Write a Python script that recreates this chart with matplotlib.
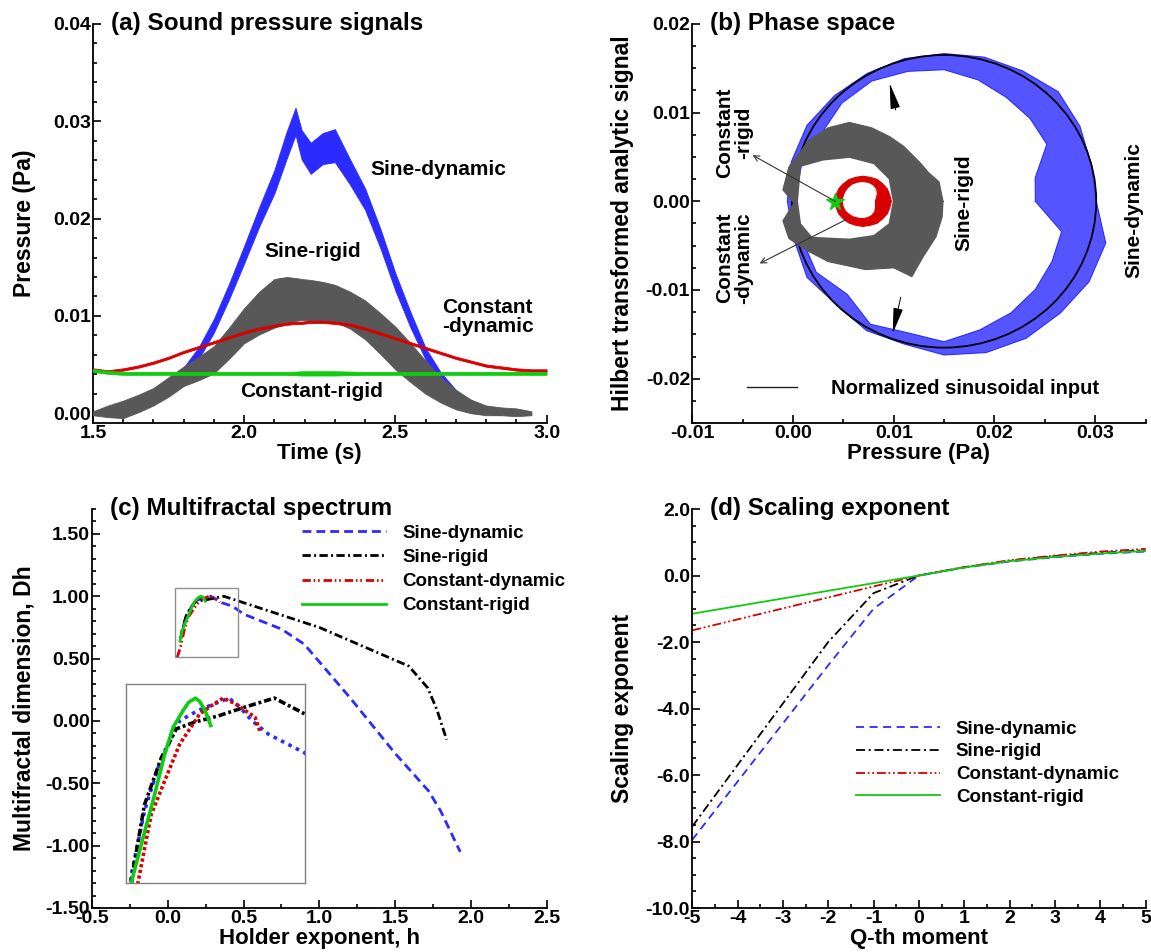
import numpy as np
import matplotlib
matplotlib.use('Agg')
import matplotlib.pyplot as plt
from matplotlib.patches import Ellipse, Rectangle
from matplotlib.lines import Line2D
from matplotlib.ticker import MultipleLocator, FormatStrFormatter

plt.rcParams['font.family'] = ['Liberation Sans', 'DejaVu Sans']
plt.rcParams['font.weight'] = 'bold'
plt.rcParams['axes.labelweight'] = 'bold'

BLUE = '#2b2bff'
GRAY = '#585858'
RED = '#d80000'
GREEN = '#10cc10'

# ---- (a) sound pressure signals, envelopes (centre, half width)
t = [1.50, 1.55, 1.60, 1.65, 1.70, 1.75, 1.80, 1.85, 1.90, 1.95, 2.00, 2.05, 2.10,
     2.14, 2.17, 2.19, 2.22, 2.26, 2.30, 2.35, 2.40, 2.45, 2.50, 2.55, 2.60, 2.65,
     2.70, 2.75, 2.80, 2.85, 2.90, 2.95, 3.00]
sd_mid = [0.0000, 0.0002, 0.0006, 0.0011, 0.0018, 0.0028, 0.0042, 0.0062, 0.0090, 0.0125,
          0.0163, 0.0202, 0.0238, 0.0275, 0.0300, 0.0276, 0.0262, 0.0272, 0.0275, 0.0248,
          0.0220, 0.0180, 0.0135, 0.0096, 0.0061, 0.0037, 0.0020, 0.0009, 0.0002, 0.0000,
          np.nan, np.nan, np.nan]
sd_hw = [0.0002, 0.0003, 0.0004, 0.0004, 0.0005, 0.0005, 0.0005, 0.0006, 0.0007, 0.0008,
         0.0009, 0.0010, 0.0012, 0.0014, 0.0014, 0.0015, 0.0016, 0.0016, 0.0017, 0.0013,
         0.0011, 0.0010, 0.0009, 0.0008, 0.0006, 0.0005, 0.0004, 0.0003, 0.0003, 0.0002,
         np.nan, np.nan, np.nan]
sr_mid = [0.0000, 0.0002, 0.0004, 0.0010, 0.0017, 0.0027, 0.0038, 0.0046, 0.0055, 0.0072,
          0.0090, 0.0103, 0.0113, 0.0116, 0.0117, 0.0117, 0.0116, 0.0115, 0.0113, 0.0106,
          0.0096, 0.0082, 0.0067, 0.0052, 0.0037, 0.0024, 0.0014, 0.0007, 0.0003, 0.0002,
          0.0001, 0.0000, np.nan]
sr_hw = [0.0002, 0.0006, 0.0009, 0.0009, 0.0009, 0.0010, 0.0010, 0.0012, 0.0014, 0.0016,
         0.0018, 0.0022, 0.0025, 0.0024, 0.0022, 0.0021, 0.0021, 0.0020, 0.0019, 0.0019,
         0.0020, 0.0021, 0.0022, 0.0020, 0.0017, 0.0013, 0.0010, 0.0007, 0.0005, 0.0004,
         0.0004, 0.0002, np.nan]
cd_mid = [0.0045, 0.0043, 0.0045, 0.0048, 0.0052, 0.0057, 0.0063, 0.0068, 0.0073, 0.0078,
          0.0083, 0.0087, 0.0090, 0.0092, 0.0093, 0.0093, 0.0094, 0.0094, 0.0093, 0.0091,
          0.0087, 0.0082, 0.0077, 0.0072, 0.0067, 0.0062, 0.0057, 0.0053, 0.0049, 0.0047,
          0.0045, 0.0044, 0.0044]
cd_hw = 0.00012
cr_mid = [0.0044, 0.0042, 0.0041, 0.0041, 0.0041, 0.0041, 0.0041, 0.0041, 0.0041, 0.0041,
          0.0041, 0.0041, 0.0041, 0.0041, 0.0041, 0.0041, 0.0041, 0.0041, 0.0041, 0.0041,
          0.0041, 0.0041, 0.0041, 0.0041, 0.0041, 0.0041, 0.0041, 0.0041, 0.0041, 0.0041,
          0.0041, 0.0041, 0.0041]
cr_hw = [0.00015, 0.00015, 0.00015, 0.00015, 0.00015, 0.00015, 0.00015, 0.00015, 0.00015,
         0.00015, 0.00015, 0.00015, 0.00015, 0.00015, 0.00018, 0.00022, 0.00022, 0.00022,
         0.00022, 0.00018, 0.00015, 0.00015, 0.00015, 0.00015, 0.00015, 0.00015, 0.00015,
         0.00015, 0.00015, 0.00015, 0.00015, 0.00015, 0.00015]

# ---- (b) phase space
ref_c = (0.015, 0.0)
ref_rx, ref_ry = 0.0151, 0.0165
sd_ang = np.arange(0, 360, 15)
sd_rin = [0.60, 0.62, 0.78, 0.80, 0.82, 0.86, 0.90, 0.92, 0.95, 0.95, 0.93, 0.97,
          0.98, 0.97, 0.97, 0.90, 0.97, 0.93, 0.96, 0.91, 0.88, 0.85, 0.82, 0.80]
sd_rout = [1.00, 1.00, 1.03, 1.06, 1.03, 1.02, 1.01, 1.01, 1.01, 1.02, 1.04, 1.04,
           1.03, 1.02, 1.04, 1.00, 1.02, 1.01, 1.05, 1.07, 1.08, 1.08, 1.10, 1.10]
cd_c = (0.00695, 0.0)
cd_rx, cd_ry = 0.00275, 0.0028
cd_ang = np.arange(0, 360, 15)
cd_rin = [0.45, 0.50, 0.60, 0.70, 0.76, 0.79, 0.80, 0.80, 0.80, 0.78, 0.76, 0.75,
          0.75, 0.75, 0.75, 0.73, 0.72, 0.70, 0.70, 0.68, 0.65, 0.60, 0.52, 0.47]
cd_rout = [1.02, 1.00, 1.01, 1.00, 1.02, 1.00, 1.01, 1.00, 1.01, 1.00, 1.01, 1.00,
           1.00, 1.00, 1.01, 1.00, 1.01, 1.00, 1.01, 1.00, 1.02, 1.00, 1.01, 1.00]
sr_out_x = [0.0149, 0.0145, 0.0135, 0.0125, 0.0110, 0.0096, 0.0078, 0.0056, 0.0035, 0.0016,
            -0.0004, -0.0010, 0.0001, -0.0010, -0.0004, 0.0013, 0.0035, 0.0072, 0.0100,
            0.0118, 0.0129, 0.0142, 0.0148]
sr_out_y = [0.0000, 0.0022, 0.0032, 0.0045, 0.0062, 0.0073, 0.0083, 0.0089, 0.0083, 0.0069,
            0.0039, 0.0013, -0.0002, -0.0022, -0.0042, -0.0055, -0.0068, -0.0077, -0.0075,
            -0.0085, -0.0063, -0.0040, -0.0018]
sr_in_x = [0.0099, 0.0095, 0.0080, 0.0056, 0.0030, 0.0008, 0.0005, 0.0008, 0.0019, 0.0056,
           0.0080, 0.0095]
sr_in_y = [0.0000, 0.0025, 0.0042, 0.0049, 0.0046, 0.0039, 0.0000, -0.0025, -0.0040, -0.0042,
           -0.0038, -0.0025]
cr_x, cr_y = [0.0042], [-0.0001]

# ---- (c) multifractal spectrum
h_sd = [0.085, 0.0956, 0.121, 0.147, 0.1726, 0.1887, 0.224, 0.256, 0.283, 0.301, 0.327,
        0.359, 0.428, 0.50, 0.75, 0.90, 1.20, 1.50, 1.72, 1.80, 1.93]
D_sd = [0.66, 0.741, 0.835, 0.898, 0.942, 0.967, 0.982, 0.992, 1.00, 0.989, 0.967,
        0.947, 0.920, 0.857, 0.737, 0.616, 0.19, -0.26, -0.56, -0.72, -1.05]
h_sr = [0.085, 0.0988, 0.121, 0.1534, 0.182, 0.2175, 0.2625, 0.314, 0.37, 0.428, 1.00,
        1.59, 1.715, 1.776, 1.84]
D_sr = [0.66, 0.746, 0.844, 0.913, 0.955, 0.965, 0.974, 0.987, 1.00, 0.977, 0.75,
        0.44, 0.266, 0.09, -0.15]
h_cd = [0.062, 0.085, 0.1085, 0.134, 0.1598, 0.1887, 0.227, 0.2496, 0.272, 0.2946,
        0.314, 0.333, 0.343]
D_cd = [0.51, 0.60, 0.73, 0.83, 0.879, 0.933, 0.977, 0.989, 1.00, 0.992, 0.982, 0.972, 0.95]
h_cr = [0.08, 0.0956, 0.118, 0.1405, 0.1598, 0.1758, 0.195, 0.206, 0.2188, 0.227, 0.237, 0.248]
D_cr = [0.64, 0.73, 0.795, 0.859, 0.918, 0.957, 0.982, 0.994, 1.00, 0.995, 0.982, 0.960]

# ---- (d) scaling exponent
q = [-5, -4, -3, -2, -1, 0, 1, 2, 3, 4, 5]
tau_sd = [-7.95, -6.2, -4.45, -2.7, -1.0, 0.0, 0.24, 0.42, 0.55, 0.65, 0.72]
tau_sr = [-7.55, -5.7, -3.85, -2.0, -0.53, 0.0, 0.25, 0.44, 0.58, 0.68, 0.76]
tau_cd = [-1.65, -1.32, -0.99, -0.66, -0.33, 0.0, 0.25, 0.46, 0.60, 0.72, 0.80]
tau_cr = [-1.15, -0.92, -0.69, -0.46, -0.23, 0.0, 0.24, 0.43, 0.56, 0.66, 0.74]

names = ['Sine-dynamic', 'Sine-rigid', 'Constant-dynamic', 'Constant-rigid']

fig = plt.figure(figsize=(11.51, 9.52), dpi=100)
W, H = 1151.0, 952.0
axa = fig.add_axes([92.9 / W, 1 - 423 / H, 453.7 / W, 399 / H])
axb = fig.add_axes([692.2 / W, 1 - 423 / H, 453.4 / W, 399 / H])
axc = fig.add_axes([92.1 / W, 1 - 908 / H, 454.5 / W, 399 / H])
axd = fig.add_axes([692.2 / W, 1 - 908 / H, 453.4 / W, 399 / H])

TXT = 15


def style(ax, title, xlabel, ylabel, ylx):
    for s in ['top', 'right']:
        ax.spines[s].set_visible(False)
    for s in ['left', 'bottom']:
        ax.spines[s].set_linewidth(1.3)
    ax.tick_params(which='both', direction='in', top=False, right=False, width=1.2,
                   labelsize=14, pad=1.5)
    ax.tick_params(which='major', length=6)
    ax.tick_params(which='minor', length=3)
    ax.text(0.04, 1.0, title, transform=ax.transAxes, ha='left', va='center',
            fontsize=17.5, fontweight='bold')
    ax.set_xlabel(xlabel, fontsize=16)
    ax.set_ylabel(ylabel, fontsize=16.5)
    ax.xaxis.set_label_coords(0.5, -0.05)
    ax.yaxis.set_label_coords(ylx, 0.5)


def band(ax, x, mid, hw, color, z):
    mid = np.asarray(mid, float)
    lo = mid - np.asarray(hw, float)
    hi = mid + np.asarray(hw, float)
    ax.fill_between(x, lo, hi, color=color, lw=0.6, zorder=z)


def ring(ax, cx, cy, rx, ry, ang, rin, rout, color, z, alpha=1.0):
    a = np.radians(np.append(ang, ang[0]))
    ri = np.append(rin, rin[0])
    ro = np.append(rout, rout[0])
    xo, yo = cx + ro * rx * np.cos(a), cy + ro * ry * np.sin(a)
    xi, yi = cx + ri * rx * np.cos(a), cy + ri * ry * np.sin(a)
    ax.fill(np.r_[xo, xi[::-1]], np.r_[yo, yi[::-1]], color=color, lw=0, alpha=alpha, zorder=z)
    ax.plot(xo, yo, color=color, lw=0.8, zorder=z)
    ax.plot(xi, yi, color=color, lw=0.8, zorder=z)


# ---------------- (a)
band(axa, t, sd_mid, sd_hw, BLUE, 2)
band(axa, t, sr_mid, sr_hw, GRAY, 3)
band(axa, t, cd_mid, cd_hw, RED, 4)
band(axa, t, cr_mid, cr_hw, GREEN, 5)
axa.set_xlim(1.5, 3.0)
axa.set_ylim(-0.001, 0.04)
axa.xaxis.set_major_locator(MultipleLocator(0.5))
axa.xaxis.set_minor_locator(MultipleLocator(0.1))
axa.yaxis.set_major_locator(MultipleLocator(0.01))
axa.yaxis.set_minor_locator(MultipleLocator(0.002))
axa.xaxis.set_major_formatter(FormatStrFormatter('%.1f'))
axa.yaxis.set_major_formatter(FormatStrFormatter('%.2f'))
style(axa, '(a) Sound pressure signals', 'Time (s)', 'Pressure (Pa)', -0.125)
axa.text(2.418, 0.025, 'Sine-dynamic', fontsize=TXT, ha='left', va='center')
axa.text(2.228, 0.0166, 'Sine-rigid', fontsize=TXT, ha='center', va='center')
axa.text(2.653, 0.0099, 'Constant\n-dynamic', fontsize=TXT, ha='left', va='center',
         linespacing=1.0)
axa.text(2.223, 0.0022, 'Constant-rigid', fontsize=TXT, ha='center', va='center')

# ---------------- (b)
ring(axb, ref_c[0], ref_c[1], ref_rx, ref_ry, sd_ang, sd_rin, sd_rout, BLUE, 2, 0.8)
axb.add_patch(Ellipse(ref_c, 2 * ref_rx, 2 * ref_ry, fill=False, ec='black', lw=1.3, zorder=3))
axb.fill(np.r_[sr_out_x, sr_out_x[0], sr_in_x[0], sr_in_x[::-1]],
         np.r_[sr_out_y, sr_out_y[0], sr_in_y[0], sr_in_y[::-1]],
         color=GRAY, lw=0, zorder=4)
axb.plot(np.r_[sr_out_x, sr_out_x[0]], np.r_[sr_out_y, sr_out_y[0]], color=GRAY, lw=0.8, zorder=4)
ring(axb, cd_c[0], cd_c[1], cd_rx, cd_ry, cd_ang, cd_rin, cd_rout, RED, 5)
axb.plot(cr_x, cr_y, marker='*', ms=13, color=GREEN, ls='none', zorder=6)
thin = dict(arrowstyle='->', color='#333333', lw=0.8, shrinkA=0, shrinkB=0)
axb.annotate('', xy=(-0.0040, 0.0052), xytext=(0.0042, 0.0), zorder=7, arrowprops=thin)
axb.annotate('', xy=(-0.0033, -0.0070), xytext=(0.0052, -0.0021), zorder=7, arrowprops=thin)
bold = dict(arrowstyle='-|>,head_length=1.6,head_width=0.3', color='black', lw=0.7,
            mutation_scale=10, shrinkA=0, shrinkB=0)
axb.annotate('', xy=(0.0096, 0.0133), xytext=(0.0102, 0.0103), zorder=7, arrowprops=bold)
axb.annotate('', xy=(0.0099, -0.0149), xytext=(0.0107, -0.0108), zorder=7, arrowprops=bold)
axb.text(-0.0058, 0.0077, 'Constant\n-rigid', rotation=90, fontsize=TXT, ha='center',
         va='center', multialignment='center', linespacing=1.0)
axb.text(-0.0058, -0.0064, 'Constant\n-dynamic', rotation=90, fontsize=TXT, ha='center',
         va='center', multialignment='center', linespacing=1.0)
axb.text(0.0170, -0.0002, 'Sine-rigid', rotation=90, fontsize=TXT, ha='center', va='center')
axb.text(0.0338, -0.0010, 'Sine-dynamic', rotation=90, fontsize=TXT, ha='center', va='center')
axb.legend([Line2D([0], [0], color='#222222', lw=1.0)], ['Normalized sinusoidal input'],
           loc='center left', bbox_to_anchor=(0.12, 0.087), frameon=False, fontsize=14.5,
           handlelength=2.5, handletextpad=1.7, borderaxespad=0, borderpad=0)
axb.set_xlim(-0.01, 0.035)
axb.set_ylim(-0.025, 0.02)
axb.xaxis.set_major_locator(MultipleLocator(0.01))
axb.xaxis.set_minor_locator(MultipleLocator(0.005))
axb.yaxis.set_major_locator(MultipleLocator(0.01))
axb.yaxis.set_minor_locator(MultipleLocator(0.0025))
axb.xaxis.set_major_formatter(FormatStrFormatter('%.2f'))
axb.yaxis.set_major_formatter(FormatStrFormatter('%.2f'))
style(axb, '(b) Phase space', 'Pressure (Pa)', 'Hilbert transformed analytic signal', -0.128)

# ---------------- (c)
c_styles = [dict(color=BLUE, dashes=(3.2, 1.8)),
            dict(color='black', dashes=(3, 1.2, 0.7, 1.2)),
            dict(color=RED, dashes=(3, 1, 0.6, 1, 0.6, 1.4)),
            dict(color=GREEN)]
c_data = [(h_sd, D_sd), (h_sr, D_sr), (h_cd, D_cd), (h_cr, D_cr)]
lines_c = []
for (hh, dd), st, nm in zip(c_data, c_styles, names):
    ln, = axc.plot(hh, dd, lw=2, label=nm, **st)
    lines_c.append(ln)
axc.add_patch(Rectangle((0.05, 0.51), 0.41, 0.56, fill=False, ec='#909090', lw=1.0, zorder=6))
axins = axc.inset_axes([-0.275, -1.298, 1.178, 1.591], transform=axc.transData)
in_styles = [dict(color=BLUE, dashes=(1, 1.3)),
             dict(color='black', dashes=(2, 0.8, 0.8, 0.8)),
             dict(color=RED, dashes=(0.9, 0.7)),
             dict(color=GREEN)]
for (hh, dd), st in zip(c_data, in_styles):
    axins.plot(hh, dd, lw=2.6, **st)
axins.set_xlim(0.086, 0.428)
axins.set_ylim(0.73, 1.02)
axins.set_xticks([])
axins.set_yticks([])
for s in axins.spines.values():
    s.set_edgecolor('#808080')
    s.set_linewidth(1.0)
axc.legend(handles=lines_c, loc='upper left', bbox_to_anchor=(0.462, 0.961), frameon=False,
           fontsize=13.5, handlelength=4.5, handletextpad=0.83, labelspacing=0.38,
           borderaxespad=0, borderpad=0)
axc.set_xlim(-0.5, 2.5)
axc.set_ylim(-1.5, 1.7)
axc.xaxis.set_major_locator(MultipleLocator(0.5))
axc.xaxis.set_minor_locator(MultipleLocator(0.25))
axc.yaxis.set_major_locator(MultipleLocator(0.5))
axc.yaxis.set_minor_locator(MultipleLocator(0.1))
axc.xaxis.set_major_formatter(FormatStrFormatter('%.1f'))
axc.yaxis.set_major_formatter(FormatStrFormatter('%.2f'))
style(axc, '(c) Multifractal spectrum', 'Holder exponent, h', 'Multifractal dimension, Dh', -0.125)

# ---------------- (d)
d_styles = [dict(color=BLUE, dashes=(4.5, 3)),
            dict(color='black', dashes=(5, 2, 1.2, 2)),
            dict(color=RED, dashes=(5, 1.5, 1, 1.5, 1, 1.5)),
            dict(color=GREEN)]
lines_d = []
for tau, st, nm in zip([tau_sd, tau_sr, tau_cd, tau_cr], d_styles, names):
    ln, = axd.plot(q, tau, lw=1.3, label=nm, **st)
    lines_d.append(ln)
axd.legend(handles=lines_d, loc='upper left', bbox_to_anchor=(0.361, 0.47), frameon=False,
           fontsize=13.5, handlelength=4.5, handletextpad=0.83, labelspacing=0.3,
           borderaxespad=0, borderpad=0)
axd.set_xlim(-5, 5)
axd.set_ylim(-10, 2)
axd.xaxis.set_major_locator(MultipleLocator(1))
axd.xaxis.set_minor_locator(MultipleLocator(0.5))
axd.yaxis.set_major_locator(MultipleLocator(2))
axd.yaxis.set_minor_locator(MultipleLocator(0.5))
axd.xaxis.set_major_formatter(FormatStrFormatter('%d'))
axd.yaxis.set_major_formatter(FormatStrFormatter('%.1f'))
style(axd, '(d) Scaling exponent', 'Q-th moment', 'Scaling exponent', -0.128)

fig.savefig('out.png', dpi=100)
